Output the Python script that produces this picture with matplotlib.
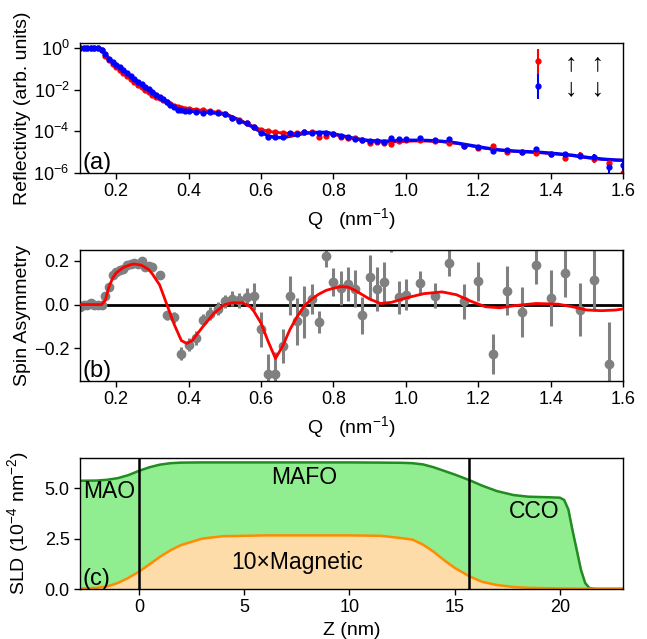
import numpy as np
import matplotlib
matplotlib.use("Agg")
import matplotlib.pyplot as plt
from matplotlib.ticker import NullLocator

plt.rcParams['font.family'] = ['Liberation Sans', 'DejaVu Sans']
plt.rcParams['font.size'] = 12
plt.rcParams['mathtext.fontset'] = 'custom'
plt.rcParams['mathtext.rm'] = 'Liberation Sans'
plt.rcParams['mathtext.it'] = 'Liberation Sans:italic'
plt.rcParams['mathtext.bf'] = 'Liberation Sans:bold'
plt.rcParams['axes.linewidth'] = 1.0

# ---- (a) reflectivity data, log10(R) ----
q_refl = [0.10, 0.11, 0.12, 0.13, 0.14, 0.15, 0.16, 0.17, 0.18, 0.19,
          0.20, 0.21, 0.22, 0.23, 0.24, 0.25, 0.26, 0.27, 0.28, 0.29,
          0.30, 0.31, 0.32, 0.33, 0.34, 0.35, 0.36, 0.37, 0.38, 0.39,
          0.40, 0.42, 0.44, 0.46, 0.48, 0.50, 0.52, 0.54, 0.56, 0.58,
          0.60, 0.62, 0.64, 0.66, 0.68, 0.70, 0.72, 0.74, 0.76, 0.78,
          0.80, 0.82, 0.84, 0.86, 0.88, 0.90, 0.92, 0.94, 0.96, 0.98,
          1.00, 1.04, 1.08, 1.12, 1.16, 1.20, 1.24, 1.28, 1.32, 1.36,
          1.40, 1.44, 1.48, 1.52, 1.56, 1.60]
logr_up = [0.0, 0.0, 0.0, 0.0, 0.0, 0.0, -0.12, -0.38, -0.60, -0.78,
           -0.92, -1.06, -1.20, -1.36, -1.50, -1.63, -1.77, -1.90, -2.02, -2.14,
           -2.24, -2.34, -2.42, -2.52, -2.60, -2.70, -2.78, -2.83, -2.88, -2.91,
           -2.93, -2.98, -3.00, -3.04, -3.08, -3.15, -3.36, -3.47, -3.60, -3.80,
           -3.94, -3.97, -4.02, -4.10, -4.13, -4.10, -4.05, -4.04, -4.26, -4.23,
           -4.13, -4.29, -4.34, -4.34, -4.42, -4.58, -4.50, -4.58, -4.62, -4.45,
           -4.42, -4.42, -4.47, -4.58, -4.70, -4.82, -4.71, -4.98, -4.98, -5.06,
           -5.10, -5.26, -5.12, -5.35, -5.51, -6.00]
logr_dn = [0.0, 0.0, 0.0, 0.0, 0.0, 0.0, -0.10, -0.32, -0.52, -0.68,
           -0.80, -0.93, -1.06, -1.20, -1.35, -1.48, -1.62, -1.74, -1.87, -1.99,
           -2.10, -2.24, -2.35, -2.47, -2.58, -2.72, -2.85, -2.96, -3.00, -3.02,
           -3.04, -3.08, -3.12, -3.06, -3.11, -3.17, -3.38, -3.49, -3.59, -3.81,
           -4.07, -4.26, -4.29, -4.26, -4.10, -4.15, -4.04, -4.07, -4.07, -4.07,
           -4.13, -4.23, -4.29, -4.39, -4.42, -4.46, -4.47, -4.50, -4.34, -4.39,
           -4.37, -4.34, -4.42, -4.39, -4.70, -4.74, -4.94, -4.90, -4.98, -4.87,
           -5.10, -5.10, -5.17, -5.22, -5.70, -5.63]
rel_err_up = [0.03, 0.03, 0.03, 0.03, 0.03, 0.03, 0.03, 0.03, 0.03, 0.03,
              0.04, 0.04, 0.04, 0.04, 0.04, 0.05, 0.05, 0.05, 0.05, 0.05,
              0.05, 0.05, 0.05, 0.05, 0.05, 0.06, 0.06, 0.06, 0.06, 0.06,
              0.06, 0.08, 0.08, 0.08, 0.08, 0.08, 0.10, 0.10, 0.10, 0.10,
              0.12, 0.12, 0.12, 0.12, 0.12, 0.12, 0.12, 0.12, 0.12, 0.12,
              0.12, 0.12, 0.12, 0.12, 0.12, 0.15, 0.15, 0.15, 0.15, 0.15,
              0.15, 0.15, 0.15, 0.15, 0.18, 0.18, 0.20, 0.20, 0.20, 0.22,
              0.25, 0.25, 0.30, 0.35, 0.40, 0.95]
rel_err_dn = [0.03, 0.03, 0.03, 0.03, 0.03, 0.03, 0.03, 0.03, 0.03, 0.03,
              0.04, 0.04, 0.04, 0.04, 0.04, 0.05, 0.05, 0.05, 0.05, 0.05,
              0.05, 0.05, 0.05, 0.05, 0.05, 0.06, 0.06, 0.06, 0.06, 0.06,
              0.06, 0.08, 0.08, 0.08, 0.08, 0.08, 0.10, 0.10, 0.10, 0.10,
              0.12, 0.12, 0.12, 0.12, 0.12, 0.12, 0.12, 0.12, 0.12, 0.12,
              0.12, 0.12, 0.12, 0.12, 0.12, 0.15, 0.15, 0.15, 0.15, 0.15,
              0.15, 0.15, 0.15, 0.15, 0.18, 0.18, 0.20, 0.20, 0.20, 0.22,
              0.25, 0.25, 0.30, 0.35, 0.95, 0.60]

# fitted reflectivity curves, log10(R)
q_fit = [0.10, 0.12, 0.14, 0.15, 0.16, 0.17, 0.18, 0.20, 0.22, 0.24,
         0.26, 0.28, 0.30, 0.32, 0.34, 0.36, 0.38, 0.40, 0.43, 0.46,
         0.50, 0.54, 0.58, 0.60, 0.62, 0.64, 0.66, 0.68, 0.70, 0.74,
         0.78, 0.82, 0.86, 0.90, 0.94, 0.98, 1.02, 1.06, 1.10, 1.14,
         1.18, 1.22, 1.26, 1.30, 1.34, 1.38, 1.42, 1.46, 1.50, 1.54,
         1.58, 1.60]
fit_up = [0.0, 0.0, 0.0, -0.01, -0.09, -0.34, -0.58, -0.90, -1.18, -1.47,
          -1.75, -2.00, -2.22, -2.42, -2.60, -2.76, -2.86, -2.92, -2.98, -3.04,
          -3.14, -3.45, -3.78, -3.92, -4.00, -4.05, -4.08, -4.10, -4.09, -4.06,
          -4.08, -4.22, -4.37, -4.48, -4.52, -4.50, -4.47, -4.47, -4.50, -4.58,
          -4.70, -4.82, -4.90, -4.96, -5.00, -5.04, -5.10, -5.17, -5.27, -5.34,
          -5.38, -5.39]
fit_dn = [0.0, 0.0, 0.0, -0.01, -0.08, -0.30, -0.52, -0.80, -1.06, -1.35,
          -1.62, -1.87, -2.10, -2.35, -2.58, -2.82, -2.97, -3.03, -3.07, -3.10,
          -3.18, -3.47, -3.82, -4.05, -4.22, -4.30, -4.30, -4.24, -4.16, -4.06,
          -4.05, -4.20, -4.35, -4.45, -4.48, -4.45, -4.43, -4.44, -4.48, -4.56,
          -4.68, -4.80, -4.90, -4.95, -4.98, -5.02, -5.08, -5.15, -5.25, -5.33,
          -5.38, -5.39]

# ---- (b) spin asymmetry ----
q_sa = [0.10, 0.11, 0.12, 0.13, 0.14, 0.15, 0.16, 0.17, 0.18, 0.19,
        0.20, 0.21, 0.22, 0.23, 0.24, 0.25, 0.26, 0.27, 0.28, 0.29,
        0.30, 0.32, 0.34, 0.36, 0.38, 0.40, 0.42, 0.44, 0.46, 0.48,
        0.50, 0.52, 0.54, 0.56, 0.58, 0.60, 0.62, 0.64, 0.66, 0.68,
        0.70, 0.72, 0.74, 0.76, 0.78, 0.80, 0.82, 0.84, 0.86, 0.88,
        0.90, 0.92, 0.94, 0.96, 0.98, 1.00, 1.04, 1.08, 1.12, 1.16,
        1.20, 1.24, 1.28, 1.32, 1.36, 1.40, 1.44, 1.48, 1.52, 1.56,
        1.60]
sa = [-0.01, 0.0, 0.0, 0.005, 0.0, 0.0, 0.0, 0.04, 0.08, 0.135,
      0.15, 0.16, 0.165, 0.18, 0.185, 0.19, 0.185, 0.198, 0.17, 0.175,
      0.172, 0.137, -0.05, -0.058, -0.226, -0.183, -0.153, -0.069, -0.043, -0.019,
      0.015, 0.027, 0.02, 0.034, 0.037, -0.114, -0.317, -0.317, -0.19, 0.041,
      -0.076, -0.035, 0.026, -0.081, 0.221, 0.102, 0.076, 0.094, 0.073, -0.05,
      0.125, 0.072, 0.102, 0.32, 0.033, 0.045, 0.099, 0.041, 0.19, 0.015,
      0.107, -0.226, 0.064, -0.034, 0.18, 0.03, 0.145, -0.023, 0.111, -0.27,
      0.35]
sa_err = [0.01, 0.01, 0.01, 0.01, 0.01, 0.01, 0.01, 0.015, 0.015, 0.015,
          0.015, 0.015, 0.015, 0.015, 0.015, 0.015, 0.015, 0.015, 0.015, 0.015,
          0.015, 0.015, 0.02, 0.025, 0.03, 0.03, 0.03, 0.025, 0.03, 0.03,
          0.03, 0.035, 0.035, 0.04, 0.06, 0.08, 0.09, 0.10, 0.076, 0.088,
          0.107, 0.118, 0.07, 0.05, 0.05, 0.065, 0.076, 0.076, 0.085, 0.085,
          0.10, 0.10, 0.095, 0.08, 0.076, 0.07, 0.053, 0.057, 0.06, 0.08,
          0.09, 0.09, 0.114, 0.114, 0.088, 0.126, 0.11, 0.122, 0.14, 0.19,
          0.35]
q_sa_fit = [0.10, 0.16, 0.17, 0.18, 0.19, 0.20, 0.22, 0.24, 0.25, 0.27,
            0.29, 0.30, 0.32, 0.34, 0.36, 0.38, 0.395, 0.41, 0.44, 0.47,
            0.50, 0.52, 0.55, 0.57, 0.58, 0.60, 0.62, 0.64, 0.66, 0.68,
            0.70, 0.72, 0.74, 0.76, 0.78, 0.80, 0.82, 0.84, 0.86, 0.90,
            0.93, 0.96, 1.00, 1.05, 1.10, 1.14, 1.18, 1.22, 1.26, 1.30,
            1.36, 1.42, 1.46, 1.50, 1.54, 1.58, 1.60]
sa_fit = [0.0, 0.0, 0.02, 0.08, 0.12, 0.145, 0.17, 0.183, 0.186, 0.18,
          0.16, 0.14, 0.09, 0.0, -0.09, -0.165, -0.178, -0.165, -0.10, -0.04,
          0.0, 0.008, 0.008, -0.01, -0.03, -0.085, -0.17, -0.247, -0.19, -0.114,
          -0.055, -0.005, 0.025, 0.048, 0.065, 0.075, 0.082, 0.08, 0.065, 0.025,
          0.005, 0.01, 0.03, 0.05, 0.058, 0.045, 0.015, -0.01, -0.015, -0.005,
          0.005, 0.002, -0.01, -0.025, -0.028, -0.025, -0.02]

# ---- (c) SLD profile ----
z = [-2.8, -2.0, -1.5, -1.0, -0.5, 0.0, 0.5, 1.0, 1.5, 2.0,
     3.0, 4.0, 6.0, 8.0, 10.0, 11.5, 12.5, 13.0, 13.5, 14.0,
     14.5, 15.0, 15.7, 16.3, 17.0, 17.8, 18.5, 19.5, 20.0, 20.2,
     20.4, 20.6, 20.8, 21.0, 21.2, 21.4, 21.7, 23.0]
sld_nuc = [5.37, 5.38, 5.42, 5.50, 5.65, 5.86, 6.04, 6.17, 6.24, 6.27,
           6.28, 6.28, 6.28, 6.28, 6.28, 6.27, 6.26, 6.24, 6.18, 6.04,
           5.86, 5.68, 5.40, 5.13, 4.86, 4.66, 4.58, 4.55, 4.53, 4.42,
           3.95, 2.90, 1.93, 0.95, 0.30, 0.05, 0.0, 0.0]
sld_mag = [0.02, 0.06, 0.13, 0.30, 0.55, 0.86, 1.22, 1.60, 1.92, 2.18,
           2.50, 2.62, 2.66, 2.66, 2.66, 2.64, 2.52, 2.45, 2.20, 1.85,
           1.43, 1.05, 0.63, 0.36, 0.20, 0.10, 0.06, 0.04, 0.03, 0.03,
           0.03, 0.03, 0.02, 0.02, 0.02, 0.02, 0.02, 0.02]
interfaces = [0.0, 15.7]


fig = plt.figure(figsize=(6.47, 6.39), dpi=100)
left, width = 0.1236, 0.8394
ax1 = fig.add_axes([left, 0.7293, width, 0.2034])
ax2 = fig.add_axes([left, 0.4038, width, 0.2050])
ax3 = fig.add_axes([left, 0.0782, width, 0.2051])

for ax in (ax1, ax2, ax3):
    ax.tick_params(direction='out', length=4, width=1, labelsize=13)
    ax.yaxis.set_label_coords(-0.09, 0.5)

# (a)
q_r = np.array(q_refl)
r_up = 10 ** np.array(logr_up)
r_dn = 10 ** np.array(logr_dn)
ax1.errorbar(q_r, r_up, yerr=r_up * np.array(rel_err_up), fmt='o', color='red',
             ms=3.5, elinewidth=1.5, capsize=0, label='↑  ↑')
ax1.errorbar(q_r, r_dn, yerr=r_dn * np.array(rel_err_dn), fmt='o', color='blue',
             ms=3.5, elinewidth=1.5, capsize=0, label='↓  ↓')
ax1.plot(q_fit, 10 ** np.array(fit_up), color='red', lw=2)
ax1.plot(q_fit, 10 ** np.array(fit_dn), color='blue', lw=2.4)
ax1.set_yscale('log')
ax1.set_ylim(1e-6, 1.7)
ax1.set_yticks([1e0, 1e-2, 1e-4, 1e-6])
ax1.yaxis.set_minor_locator(NullLocator())
ax1.set_xlim(0.1, 1.6)
ax1.set_xticks([0.2, 0.4, 0.6, 0.8, 1.0, 1.2, 1.4, 1.6])
ax1.set_xlabel(r'Q   (nm$^{-1}$)', fontsize=14)
ax1.set_ylabel('Reflectivity (arb. units)', fontsize=14)
ax1.text(0.005, 0.03, '(a)', transform=ax1.transAxes, fontsize=17)
ax1.legend(loc='upper left', bbox_to_anchor=(0.821, 0.94), frameon=False,
           fontsize=18, handlelength=1.0, handletextpad=0.56, labelspacing=0.05,
           borderpad=0, borderaxespad=0)

# (b)
ax2.axhline(0, color='black', lw=2, zorder=1)
ax2.errorbar(q_sa, sa, yerr=sa_err, fmt='o', color='gray', ms=6,
             elinewidth=2.2, capsize=0, zorder=2)
ax2.plot(q_sa_fit, sa_fit, color='red', lw=2, zorder=3)
ax2.set_xlim(0.1, 1.6)
ax2.set_ylim(-0.35, 0.25)
ax2.set_yticks([-0.2, 0.0, 0.2])
ax2.set_xticks([0.2, 0.4, 0.6, 0.8, 1.0, 1.2, 1.4, 1.6])
ax2.set_xlabel(r'Q   (nm$^{-1}$)', fontsize=14)
ax2.set_ylabel('Spin Asymmetry', fontsize=14)
ax2.text(0.005, 0.03, '(b)', transform=ax2.transAxes, fontsize=17)

# (c)
ax3.fill_between(z, 0, sld_nuc, color='#90ee90')
ax3.plot(z, sld_nuc, color='forestgreen', lw=1.8)
ax3.fill_between(z, 0, sld_mag, color='#fedcaa')
ax3.plot(z, sld_mag, color='darkorange', lw=1.8)
for zi in interfaces:
    ax3.axvline(zi, color='black', lw=1.8)
ax3.set_xlim(-2.8, 23)
ax3.set_ylim(0, 6.5)
ax3.set_yticks([0.0, 2.5, 5.0])
ax3.set_xticks([0, 5, 10, 15, 20])
ax3.set_xlabel('Z (nm)', fontsize=14)
ax3.set_ylabel(r'SLD (10$^{-4}$ nm$^{-2}$)', fontsize=14)
ax3.text(-1.4, 4.85, 'MAO', fontsize=16.5, ha='center', va='center')
ax3.text(7.85, 5.55, 'MAFO', fontsize=16.5, ha='center', va='center')
ax3.text(18.8, 3.86, 'CCO', fontsize=16.5, ha='center', va='center')
ax3.text(7.5, 1.34, '10×Magnetic', fontsize=16.5, ha='center', va='center')
ax3.text(0.005, 0.03, '(c)', transform=ax3.transAxes, fontsize=17)

fig.savefig('out.png', dpi=100)
